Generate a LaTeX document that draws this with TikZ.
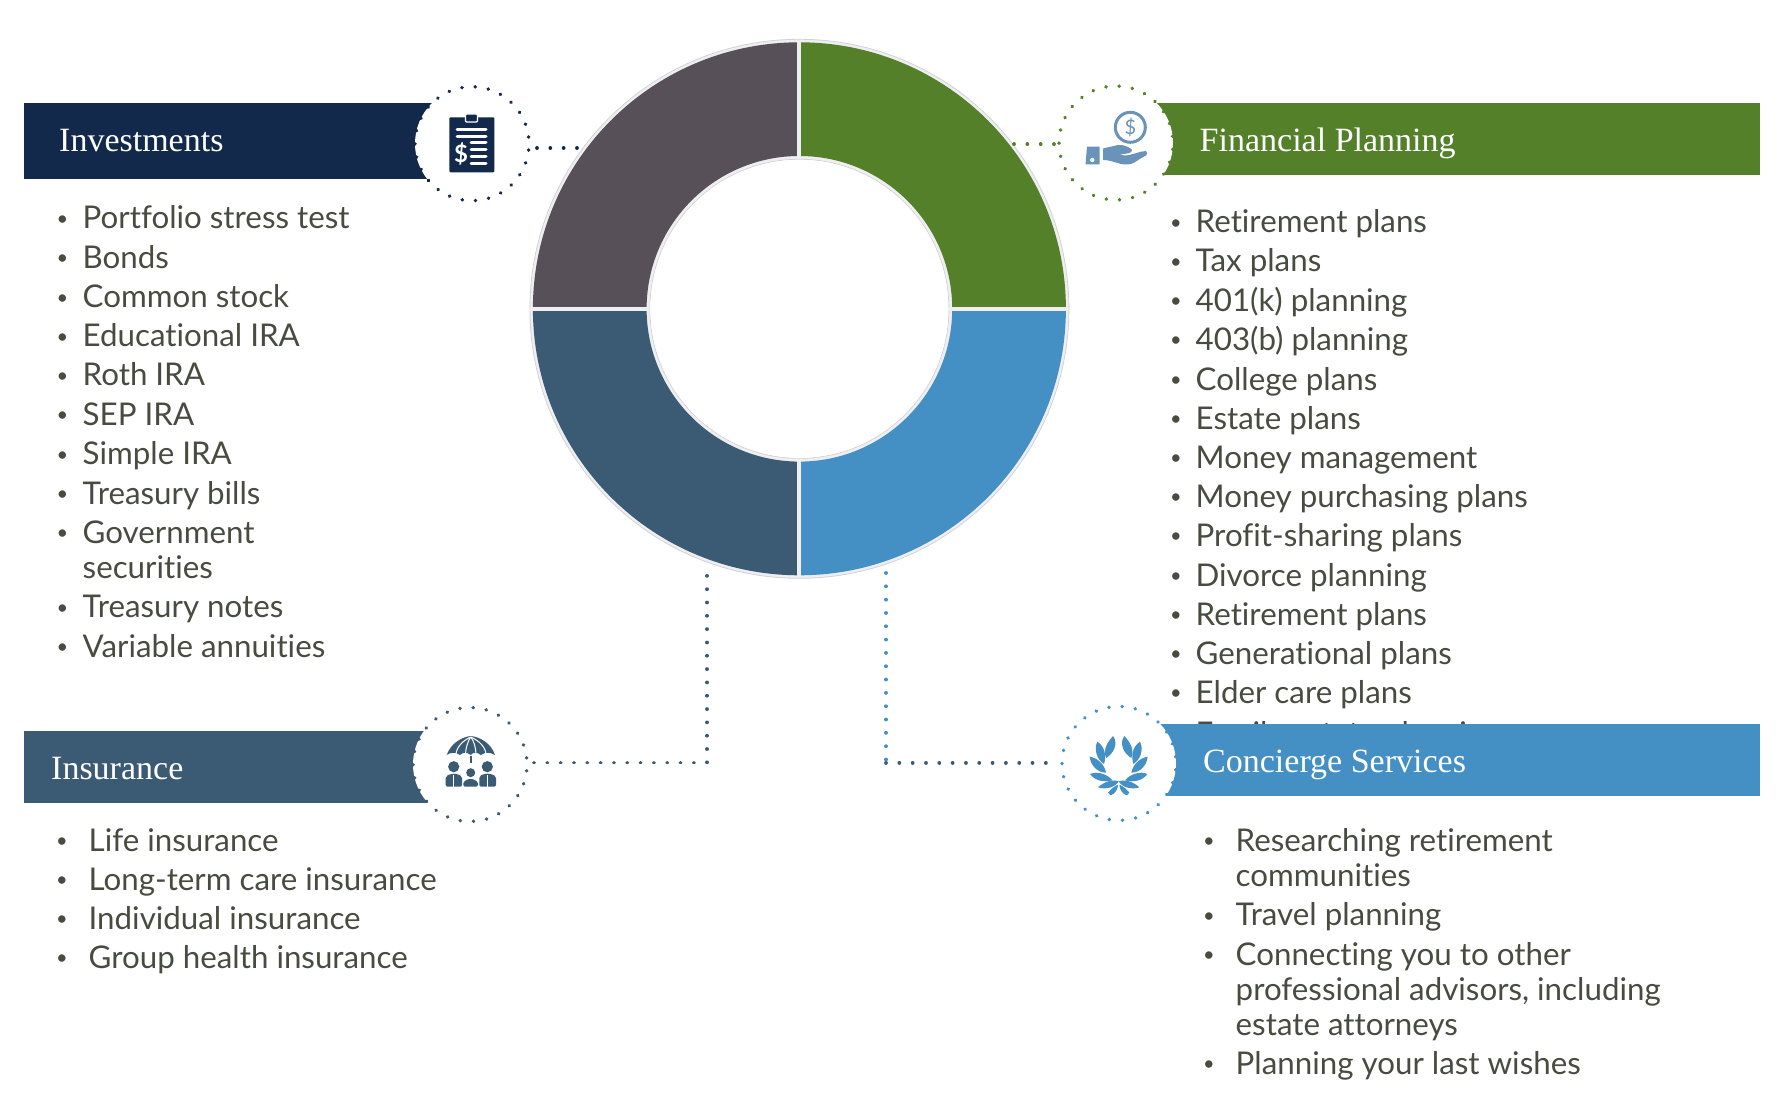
\documentclass[tikz,border=0pt]{standalone}
\usepackage{fontspec}
\setmainfont{Lato}[Ligatures=NoCommon]
\newfontfamily\headfont{Liberation Serif}
\definecolor{navy}{HTML}{13294B}
\definecolor{leaf}{HTML}{54802A}
\definecolor{slate}{HTML}{3B5B75}
\definecolor{sky}{HTML}{448FC4}
\definecolor{plum}{HTML}{585059}
\definecolor{ink}{HTML}{484B3F}
\definecolor{steel}{HTML}{6A93BA}
\definecolor{halo}{HTML}{EFEFF2}
\definecolor{rim}{HTML}{D2D2D6}
\tikzset{
  bar/.style={fill=#1,draw=none},
  dotline/.style={draw=#1,line width=3.8pt,line cap=round,dash pattern=on 0.01pt off 13.31pt},
  badge/.style={circle,fill=white,draw=#1,line width=3.8pt,line cap=round,dash pattern=on 0.01pt off 13.26pt,dash phase=6.6pt,minimum size=114pt,inner sep=0pt,outer sep=0pt},
  head/.style={anchor=base west,text=white,inner sep=0pt,font=\headfont\fontsize{34}{34}\selectfont},
  itemtext/.style={anchor=base west,text=ink,inner sep=0pt,font=\fontsize{31.3}{31.3}\selectfont},
  itemdot/.style={anchor=base,text=ink,inner sep=0pt,yshift=3.5pt,font=\fontsize{20}{20}\selectfont},
}
\begin{document}
\begin{tikzpicture}[x=1pt,y=-1pt]
\useasboundingbox (0,0) rectangle (1786,1110);
% ring
\coordinate (ringc) at (799.4,308.8);
\begin{scope}[shift={(ringc)},x=1pt,y=1pt]
  \fill[halo,even odd rule] (0,0) circle[radius=269.5] (0,0) circle[radius=149.5];
  \draw[rim,line width=0.8pt] (0,0) circle[radius=269.5] (0,0) circle[radius=149.5];
  \fill[leaf]  (0:266.5) arc[start angle=0,end angle=90,radius=266.5] -- (90:152.8) arc[start angle=90,end angle=0,radius=152.8] -- cycle;
  \fill[plum]  (90:266.5) arc[start angle=90,end angle=180,radius=266.5] -- (180:152.8) arc[start angle=180,end angle=90,radius=152.8] -- cycle;
  \fill[slate] (180:266.5) arc[start angle=180,end angle=270,radius=266.5] -- (270:152.8) arc[start angle=270,end angle=180,radius=152.8] -- cycle;
  \fill[sky]   (270:266.5) arc[start angle=270,end angle=360,radius=266.5] -- (0:152.8) arc[start angle=360,end angle=270,radius=152.8] -- cycle;
  \fill[white] (0,0) circle[radius=149];
  \fill[halo] (-2,150) rectangle (2,269);
  \fill[halo] (-2,-150) rectangle (2,-269);
  \fill[halo] (150,-2.2) rectangle (269,2.2);
  \fill[halo] (-150,-2.2) rectangle (-269,2.2);
\end{scope}
% lists
\foreach \i/\y/\t in {1/229/Portfolio stress test,2/268.5/Bonds,3/307.5/Common stock,4/346.5/Educational IRA,5/385.5/Roth IRA,6/425/SEP IRA,7/464.5/Simple IRA,8/504/Treasury bills,9/543/Government,10/617.5/Treasury notes,11/657/Variable annuities}{
  \node[itemdot] (invb\i) at (62.5,\y) {•};
  \node[itemtext] (invt\i) at (82.5,\y) {\t};
}
\node[itemtext] (invt9b) at (82.5,578.5) {securities};
\foreach \i/\y/\t in {1/233/Retirement plans,2/272/Tax plans,3/311/401(k) planning,4/350/403(b) planning,5/390/College plans,6/429/Estate plans,7/468/Money management,8/507/Money purchasing plans,9/546/Profit-sharing plans,10/586/Divorce planning,11/625/Retirement plans,12/664/Generational plans,13/703/Elder care plans,14/744/Family estate planning}{
  \node[itemdot] (finb\i) at (1176,\y) {•};
  \node[itemtext] (fint\i) at (1195.5,\y) {\t};
}
\foreach \i/\y/\t in {1/851/Life insurance,2/890/Long-term care insurance,3/929/Individual insurance,4/968/Group health insurance}{
  \node[itemdot] (insb\i) at (62,\y) {•};
  \node[itemtext] (inst\i) at (88.5,\y) {\t};
}
\foreach \i/\y/\t in {1/851/Researching retirement,2/925.5/Travel planning,3/965/Connecting you to other,4/1074/Planning your last wishes}{
  \node[itemdot] (conb\i) at (1209,\y) {•};
  \node[itemtext] (cont\i) at (1235.5,\y) {\t};
}
\node[itemtext] (cont1b) at (1235.5,886) {communities};
\node[itemtext] (cont3b) at (1235.5,1000) {professional advisors, including};
\node[itemtext] (cont3c) at (1235.5,1035) {estate attorneys};
% bars
\fill[bar=navy]  (24,103.5) rectangle (440,179);
\fill[bar=leaf]  (1110,103.5) rectangle (1760,175.5);
\fill[bar=slate] (24,731) rectangle (440,803);
\fill[bar=sky]   (1110,724) rectangle (1760,796);
\node[head] (hinv) at (59,152) {Investments};
\node[head] (hfin) at (1199.5,152) {Financial Planning};
\node[head] (hins) at (51,779) {Insurance};
\node[head] (hcon) at (1203,772) {Concierge Services};
% badges
\node[badge=navy]  (binv) at (472,143.7) {};
\node[badge=leaf]  (bfin) at (1116,143) {};
\node[badge=slate] (bins) at (470,764.5) {};
\node[badge=sky]   (bcon) at (1119,763.4) {};
% connectors
\coordinate (a1) at (537,148);   \coordinate (a2) at (577,148);
\coordinate (b1) at (1054,144.3); \coordinate (b2) at (1014,144.3);
\coordinate (c1) at (534,762.5); \coordinate (c2) at (707,762.5); \coordinate (c3) at (707,573);
\coordinate (d1) at (1059,762.7); \coordinate (d2) at (886,762.7); \coordinate (d3) at (886,573);
\path[dotline=navy] (a1) -- (a2);
\path[dotline=leaf] (b1) -- (b2);
\path[dotline=slate] (c1) -- (c2) -- (c3);
\path[dotline=sky] (d3) -- (d2);
\path[dotline=slate] (d2) -- (d1);
% clipboard icon
\fill[navy,rounded corners=1pt] (449.3,117.3) rectangle (494.3,172.3);
\draw[fill=navy,draw=white,line width=1.2pt,rounded corners=1pt] (465.5,114) rectangle (477.5,122);
\foreach \yy in {129.7,136.3}{\draw[white,line width=3pt,line cap=round] (457,\yy) -- (486,\yy);}
\foreach \yy in {143,150,157,163.5}{\draw[white,line width=3pt,line cap=round] (471,\yy) -- (486,\yy);}
\node[text=white,inner sep=0pt,font=\bfseries\fontsize{24}{24}\selectfont] (dollarA) at (461,153.5) {\$};
% hand icon
\draw[steel,line width=3pt] (1130.3,127.3) circle[radius=15];
\node[text=steel,inner sep=0pt,font=\fontsize{20}{20}\selectfont] (dollarB) at (1130.3,127.3) {\$};
\fill[steel] (1087,146.7) -- (1099.5,146.7) -- (1099.5,164.3) -- (1085.5,164.3) -- cycle;
\fill[white] (1092.3,160) circle[radius=2.2];
\fill[steel] (1103,148.5) -- (1118,145) .. controls (1126,144.5) and (1132,149) .. (1132,150) .. controls (1132,153) and (1128,154) .. (1120,154) -- (1124,155.5) .. controls (1132,155.5) and (1140,151) .. (1146,151) .. controls (1148,152) and (1147,155) .. (1146,155.5) .. controls (1135,161) and (1135,164.5) .. (1126,164.5) .. controls (1118,164.5) and (1112,160) .. (1103,160) -- cycle;
% umbrella icon
\fill[slate] (446.7,755) .. controls (451,743) and (462,737) .. (470.7,736) .. controls (480,737) and (491,743) .. (495,755) .. controls (490,752) and (485,752) .. (481,755) .. controls (477,752) and (473,752) .. (470.7,755) .. controls (467,752) and (463,752) .. (460,755) .. controls (456,752) and (451,752) .. (446.7,755) -- cycle;
\foreach \xx/\tt in {456/462,465.5/468,476/474,486/480}{\draw[white,line width=1pt] (\xx,755) .. controls (\xx,748) and (\tt,741) .. (470.7,737);}
\draw[slate,line width=1.6pt] (470.7,755.5) -- (470.7,762.5);
\fill[slate] (453.7,766.7) circle[radius=5.6];
\fill[slate] (470.7,772.7) circle[radius=4.5];
\fill[slate] (487.3,766.7) circle[radius=5.6];
\fill[slate,rounded corners=2pt] (445.7,786.7) -- (445.7,776) -- (452,773.7) -- (456,773.7) -- (462,776) -- (462,786.7) -- cycle;
\fill[slate,rounded corners=2pt] (479.3,786.7) -- (479.3,776) -- (485,773.7) -- (490,773.7) -- (496,776) -- (496,786.7) -- cycle;
\fill[slate,rounded corners=1.5pt] (463.3,786.7) -- (463.3,782) -- (468,779) -- (473,779) -- (478,782) -- (478,786.7) -- cycle;
\draw[white,line width=0.9pt] (453.9,775) -- (453.9,786.7) (487.5,775) -- (487.5,786.7);
% laurel icon
\begin{scope}[shift={(1118.7,680)},x=0.3333pt,y=-0.3333pt]
  \foreach \sx in {1,-1}{
    \begin{scope}[xscale=\sx]
      \fill[sky] (-17,168) .. controls (0,190) and (-16,222) .. (-38,234) .. controls (-48,205) and (-32,185) .. (-17,168) -- cycle;
      \fill[sky] (-64,185) .. controls (-42,200) and (-36,225) .. (-44,252) .. controls (-64,240) and (-76,210) .. (-64,185) -- cycle;
      \fill[sky] (-87,230) .. controls (-62,234) and (-42,255) .. (-38,278) .. controls (-64,278) and (-84,257) .. (-87,230) -- cycle;
      \fill[sky] (-86,282) .. controls (-65,272) and (-33,283) .. (-19,301) .. controls (-45,308) and (-72,302) .. (-86,282) -- cycle;
      \fill[sky] (-62,322) .. controls (-40,302) and (-15,298) .. (0,304) .. controls (-10,322) and (-40,330) .. (-62,322) -- cycle;
      \fill[sky] (-32,338) .. controls (-20,323) and (-8,316) .. (-2,314) .. controls (-2,330) and (-13,342) .. (-24,346) -- cycle;
    \end{scope}
  }
\end{scope}
\end{tikzpicture}
\end{document}
